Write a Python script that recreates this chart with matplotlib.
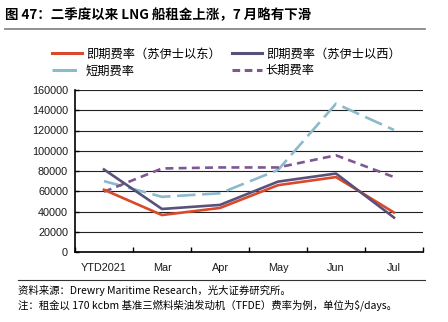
import matplotlib
matplotlib.use("Agg")
import matplotlib.pyplot as plt
from matplotlib.lines import Line2D

plt.rcParams['font.family'] = ['Noto Sans CJK SC', 'DejaVu Sans']

categories = ["YTD2021", "Mar", "Apr", "May", "Jun", "Jul"]
spot_east = [61500, 36500, 43500, 66000, 74000, 39000]
spot_west = [81500, 42500, 46500, 69500, 77500, 34000]
short_term = [70000, 54500, 58000, 81000, 146500, 120500]
long_term = [59500, 82500, 83500, 83500, 95500, 74000]
yticks = [0, 20000, 40000, 60000, 80000, 100000, 120000, 140000, 160000]

series_names = ["即期费率（苏伊士以东）", "即期费率（苏伊士以西）", "短期费率", "长期费率"]
title = "图 47：二季度以来 LNG 船租金上涨，7 月略有下滑"
source = "资料来源：Drewry Maritime Research，光大证券研究所。"
note = "注：租金以 170 kcbm 基准三燃料柴油发动机（TFDE）费率为例，单位为$/days。"

fig = plt.figure(figsize=(4.48, 3.22), dpi=100)
ax = fig.add_axes([75/448, 1-252/322, (423-75)/448, (252-90)/322])

x = list(range(len(categories)))
c_red = "#D9492A"
c_dpurple = "#5A517A"
c_lblue = "#8CBACC"
c_purple = "#7E5793"
lw = 1.9

l_ls = ax.plot(x, short_term, color=c_lblue, lw=lw, dashes=(7, 2.5), solid_capstyle='butt')[0]
l_lt = ax.plot(x, long_term, color=c_purple, lw=lw, dashes=(3, 2))[0]
l_e = ax.plot(x, spot_east, color=c_red, lw=lw)[0]
l_w = ax.plot(x, spot_west, color=c_dpurple, lw=lw)[0]

ax.set_xlim(-0.5, len(categories) - 0.5)
ax.set_ylim(0, 160000)
ax.set_yticks(yticks)
ax.set_yticklabels([str(v) for v in yticks], family='Liberation Sans', fontsize=7.8, color='#1a1a1a')
ax.set_xticks(x)
ax.set_xticklabels(categories, family='Liberation Sans', fontsize=7.8, color='#1a1a1a')
ax.set_xticks([i + 0.5 for i in range(-1, len(categories))], minor=True)
ax.tick_params(axis='x', which='major', length=0, pad=8)
ax.tick_params(axis='x', which='minor', direction='in', length=3.5, width=1.0)
ax.tick_params(axis='y', direction='in', length=3, width=1.0, pad=5)
ax.grid(axis='y', color='#222222', lw=0.8)
ax.set_axisbelow(True)
for s in ['top', 'right']:
    ax.spines[s].set_visible(False)
for s in ['left', 'bottom']:
    ax.spines[s].set_linewidth(1.2)
    ax.spines[s].set_color('black')

handles = [
    Line2D([], [], color=c_red, lw=2.2),
    Line2D([], [], color=c_lblue, lw=2.2, dashes=(8, 20)),
    Line2D([], [], color=c_dpurple, lw=2.2),
    Line2D([], [], color=c_purple, lw=2.2, dashes=(2.5, 1.5)),
]
labels = [series_names[0], series_names[2], series_names[1], series_names[3]]
fig.legend(handles, labels, ncol=2, loc='center', bbox_to_anchor=(226/448, 1-62.5/322),
           frameon=False, fontsize=8.8, handlelength=2.5, handletextpad=0.3,
           columnspacing=0.9, labelspacing=0.3, borderpad=0, borderaxespad=0)

fig.text(5/448, 1-15/322, title, fontsize=9.7, fontweight='bold', va='center', ha='left')
fig.add_artist(Line2D([5/448, 425/448], [1-29/322, 1-29/322], color='#888888', lw=1.3))
fig.add_artist(Line2D([18/448, 425/448], [1-280/322, 1-280/322], color='#333333', lw=0.8))
fig.text(18/448, 1-290/322, source, fontsize=7.5, va='center', ha='left')
fig.text(18/448, 1-305/322, note, fontsize=7.5, va='center', ha='left')

fig.savefig("out.png", dpi=100)
